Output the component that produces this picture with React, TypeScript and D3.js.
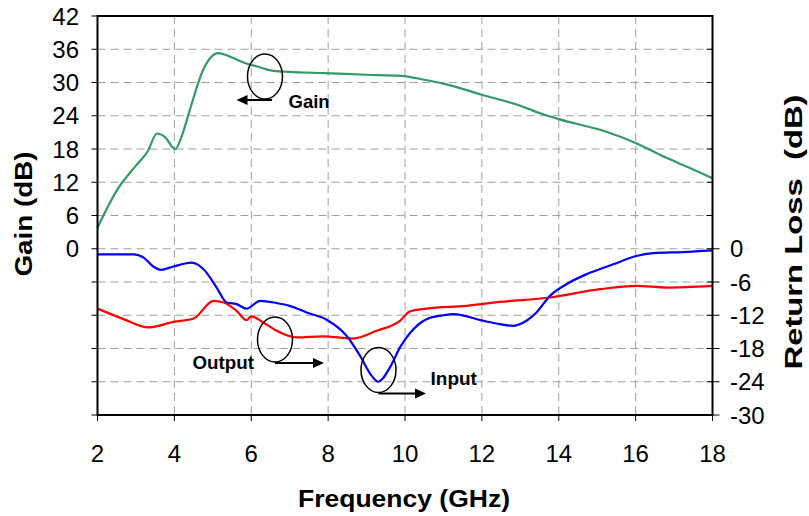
import React from "react";
import * as d3 from "d3";

// Gain (left axis, dB) vs frequency (GHz)
const gainFreq = [2, 2.5, 3.0, 3.3, 3.55, 3.75, 4.02, 4.2, 4.4, 4.75, 5.14, 5.5, 5.8, 6.2, 6.5, 7.0, 7.9, 9.0, 9.9, 10.5, 11.0, 12.0, 13.0, 13.5, 14.0, 15.2, 16.0, 16.8, 17.4, 18];
const gainDb = [3.8, 10.5, 15.0, 17.5, 20.8, 20.2, 18.0, 20.5, 25.0, 32.3, 35.3, 34.5, 33.6, 32.8, 32.2, 31.9, 31.7, 31.4, 31.2, 30.5, 29.8, 27.8, 25.8, 24.5, 23.4, 21.2, 19.1, 16.4, 14.6, 12.7];

// Input return loss (right axis, dB)
const inputFreq = [2, 2.95, 3.2, 3.45, 3.65, 3.98, 4.45, 4.76, 5.1, 5.36, 5.62, 5.88, 6.23, 6.66, 7.0, 7.44, 7.96, 8.48, 8.83, 9.13, 9.3, 9.61, 9.87, 10.13, 10.56, 11.0, 11.26, 12.04, 12.47, 12.82, 13.16, 13.42, 13.77, 14.2, 14.72, 15.42, 16.02, 16.46, 17.24, 18];
const inputRl = [-1.0, -1.0, -1.6, -3.2, -3.8, -3.2, -2.5, -3.7, -7.0, -9.7, -10.0, -10.8, -9.4, -9.8, -10.3, -11.5, -12.8, -15.7, -19.3, -22.9, -24.0, -21.4, -17.8, -15.2, -12.7, -12.0, -11.8, -13.0, -13.6, -13.9, -13.0, -11.5, -8.5, -6.4, -4.6, -2.8, -1.3, -0.8, -0.6, -0.3];

// Output return loss (right axis, dB)
const outputFreq = [2, 2.68, 3.32, 3.98, 4.5, 5.02, 5.28, 5.62, 5.88, 6.0, 6.31, 6.66, 7.18, 7.87, 8.65, 9.26, 9.87, 10.13, 10.56, 11.6, 12.47, 13.77, 15.07, 16.02, 16.8, 18];
const outputRl = [-10.8, -12.7, -14.2, -13.2, -12.6, -9.4, -9.7, -11.2, -12.9, -12.2, -13.3, -14.8, -16.0, -15.8, -16.2, -14.8, -13.0, -11.3, -10.8, -10.3, -9.6, -8.8, -7.3, -6.7, -7.0, -6.7];

const xTicks = [2, 4, 6, 8, 10, 12, 14, 16, 18];
const gainTicks = [0, 6, 12, 18, 24, 30, 36, 42];
const rlTicks = [0, -6, -12, -18, -24, -30];
const allTicks = [42, 36, 30, 24, 18, 12, 6, 0, -6, -12, -18, -24, -30];

const W = 809;
const H = 516;
const left = 97.5;
const right = 712.5;
const top = 16;
const bottom = 415;

const FONT = "'Liberation Sans', Arial, Helvetica, sans-serif";

export default function App() {
  const x = d3.scaleLinear().domain([2, 18]).range([left, right]);
  const y = d3.scaleLinear().domain([-30, 42]).range([bottom, top]);

  const line = d3
    .line<[number, number]>()
    .x((d) => x(d[0]))
    .y((d) => y(d[1]))
    .curve(d3.curveMonotoneX);

  const gainPath = line(gainFreq.map((f, i) => [f, gainDb[i]]));
  const inputPath = line(inputFreq.map((f, i) => [f, inputRl[i]]));
  const outputPath = line(outputFreq.map((f, i) => [f, outputRl[i]]));

  const gridColor = "#a0a0a0";
  const dash = "8,5";

  const arrowHead = (tx: number, ty: number, dir: number) => {
    const len = 11;
    const half = 5;
    return `M${tx},${ty} L${tx - dir * len},${ty - half} L${tx - dir * len},${ty + half} Z`;
  };

  return (
    <svg
      width={W}
      height={H}
      style={{ position: "absolute", left: 0, top: 0, background: "#fff" }}
      fontFamily={FONT}
    >
      {/* grid */}
      {allTicks
        .filter((t) => t !== 42 && t !== -30)
        .map((t) => (
          <line
            key={"h" + t}
            x1={left}
            x2={right}
            y1={y(t)}
            y2={y(t)}
            stroke={gridColor}
            strokeWidth={1}
            strokeDasharray={dash}
          />
        ))}
      {xTicks
        .filter((t) => t !== 2 && t !== 18)
        .map((t) => (
          <line
            key={"v" + t}
            x1={x(t)}
            x2={x(t)}
            y1={top}
            y2={bottom}
            stroke={gridColor}
            strokeWidth={1}
            strokeDasharray={dash}
          />
        ))}

      {/* series */}
      <path d={outputPath ?? ""} fill="none" stroke="#ff0000" strokeWidth={2.2} />
      <path d={inputPath ?? ""} fill="none" stroke="#0000ff" strokeWidth={2.2} />
      <path d={gainPath ?? ""} fill="none" stroke="#339966" strokeWidth={2.2} />

      {/* frame */}
      <rect x={left} y={top} width={right - left} height={bottom - top} fill="none" stroke="#000" strokeWidth={2} />

      {/* left axis ticks and labels */}
      {allTicks.map((t) => (
        <line key={"lt" + t} x1={left - 6} x2={left} y1={y(t)} y2={y(t)} stroke="#000" strokeWidth={1} />
      ))}
      {gainTicks.map((t) => (
        <text key={"ll" + t} x={79} y={y(t)} dy="0.36em" textAnchor="end" fontSize={24} fill="#000">
          {t}
        </text>
      ))}

      {/* right axis ticks and labels */}
      {allTicks.map((t) => (
        <line key={"rt" + t} x1={right - 6} x2={right + (t <= 0 ? 7 : 0)} y1={y(t)} y2={y(t)} stroke="#000" strokeWidth={1} />
      ))}
      {rlTicks.map((t) => (
        <text key={"rl" + t} x={730} y={y(t)} dy="0.36em" textAnchor="start" fontSize={24} fill="#000">
          {t}
        </text>
      ))}

      {/* x axis ticks and labels */}
      {xTicks.map((t) => (
        <line key={"xt" + t} x1={x(t)} x2={x(t)} y1={bottom} y2={bottom + 6} stroke="#000" strokeWidth={1} />
      ))}
      {xTicks.map((t) => (
        <text key={"xl" + t} x={x(t)} y={462} textAnchor="middle" fontSize={24} fill="#000">
          {t}
        </text>
      ))}

      {/* axis titles */}
      <text
        x={404}
        y={507}
        textAnchor="middle"
        fontSize={24}
        fontWeight="bold"
        textLength={212}
        lengthAdjust="spacingAndGlyphs"
      >
        Frequency (GHz)
      </text>
      <text
        transform={`translate(32,214) rotate(-90)`}
        textAnchor="middle"
        fontSize={24}
        fontWeight="bold"
        textLength={125}
        lengthAdjust="spacingAndGlyphs"
      >
        Gain (dB)
      </text>
      <text
        transform={`translate(802,232) rotate(-90)`}
        textAnchor="middle"
        fontSize={24}
        fontWeight="bold"
        textLength={275}
        lengthAdjust="spacingAndGlyphs"
        style={{ whiteSpace: "pre" }}
      >
        {"Return Loss  (dB)"}
      </text>

      {/* annotations */}
      <g fill="none" stroke="#000" strokeWidth={1.5}>
        <ellipse cx={265} cy={76.5} rx={17.5} ry={22.5} />
        <line x1={272} y1={100} x2={246} y2={100} strokeWidth={2} />
        <ellipse cx={275} cy={339.5} rx={17.5} ry={22.5} />
        <line x1={275} y1={363} x2={314} y2={363} strokeWidth={2} />
        <ellipse cx={378.5} cy={370} rx={17.5} ry={22.5} />
        <line x1={378.5} y1={393.5} x2={416} y2={393.5} strokeWidth={2} />
      </g>
      <path d={arrowHead(236.5, 100, -1)} fill="#000" />
      <path d={arrowHead(324, 363, 1)} fill="#000" />
      <path d={arrowHead(426, 393.5, 1)} fill="#000" />
      <text x={288.5} y={108} fontSize={18.5} fontWeight="bold">
        Gain
      </text>
      <text x={192.5} y={369} fontSize={18.8} fontWeight="bold">
        Output
      </text>
      <text x={430.5} y={385} fontSize={19} fontWeight="bold">
        Input
      </text>
    </svg>
  );
}
